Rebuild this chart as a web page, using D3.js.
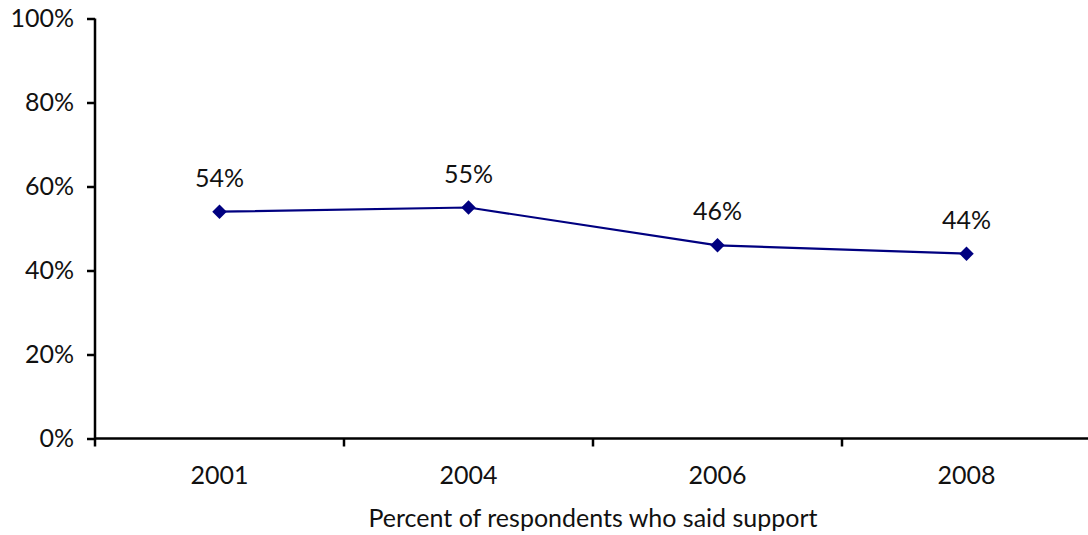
<!DOCTYPE html>
<html><head><meta charset="utf-8">
<script src="https://cdn.jsdelivr.net/npm/d3@7"></script>
<style>
body{margin:0;background:#fff;}
text{font-family:Lato, "Open Sans", sans-serif;fill:#111;}
</style></head>
<body><svg id="c" width="1088" height="535"></svg>
<script>
const categories = ["2001","2004","2006","2008"];
const values = [54,55,46,44];
const yTicks = [0,20,40,60,80,100];
const xTitle = "Percent of respondents who said support";

const FS = "25px";
const svg = d3.select("#c");
const mLeft = 95, mRight = 1091, mTop = 18.5, mBottom = 438.5;
const x = d3.scaleBand().domain(categories).range([mLeft,mRight]).padding(0);
const y = d3.scaleLinear().domain([0,100]).range([mBottom,mTop]);

const yAxis = svg.append("g").attr("transform",`translate(${mLeft},0)`)
  .call(d3.axisLeft(y).tickValues(yTicks).tickFormat(d=>d+"%").tickSize(8).tickPadding(13));
yAxis.selectAll("text").style("font-size",FS).attr("fill","#111");
yAxis.selectAll("line,path").attr("stroke","#000").attr("stroke-width",2.5);
yAxis.select("path").attr("d",`M0,${mTop}V${mBottom}`);

const xAxis = svg.append("g").attr("transform",`translate(0,${mBottom})`)
  .call(d3.axisBottom(x).tickSize(0).tickPadding(28));
xAxis.select("path").attr("d",`M${mLeft},0H${mRight}`).attr("stroke","#000").attr("stroke-width",2.5);
xAxis.selectAll("text").style("font-size",FS).attr("fill","#111");
svg.append("g").selectAll("line").data(categories).join("line")
  .attr("x1",d=>x(d)).attr("x2",d=>x(d)).attr("y1",mBottom).attr("y2",mBottom+8)
  .attr("stroke","#000").attr("stroke-width",2.5);

const cx = d=>x(d)+x.bandwidth()/2;
const line = d3.line().x((d,i)=>cx(categories[i])).y(d=>y(d));
svg.append("path").datum(values).attr("d",line).attr("fill","none")
  .attr("stroke","#000080").attr("stroke-width",2.2);
svg.append("g").selectAll("path").data(values).join("path")
  .attr("d",d3.symbol(d3.symbolSquare, 105))
  .attr("transform",(d,i)=>`translate(${cx(categories[i])},${y(d)}) rotate(45)`)
  .attr("fill","#000080");
svg.append("g").selectAll("text").data(values).join("text")
  .attr("x",(d,i)=>cx(categories[i])).attr("y",d=>y(d)-25)
  .attr("text-anchor","middle").style("font-size",FS).text(d=>d+"%");

svg.append("text").attr("x",(mLeft+mRight)/2).attr("y",527).attr("text-anchor","middle")
  .style("font-size",FS).text(xTitle);
</script></body></html>
